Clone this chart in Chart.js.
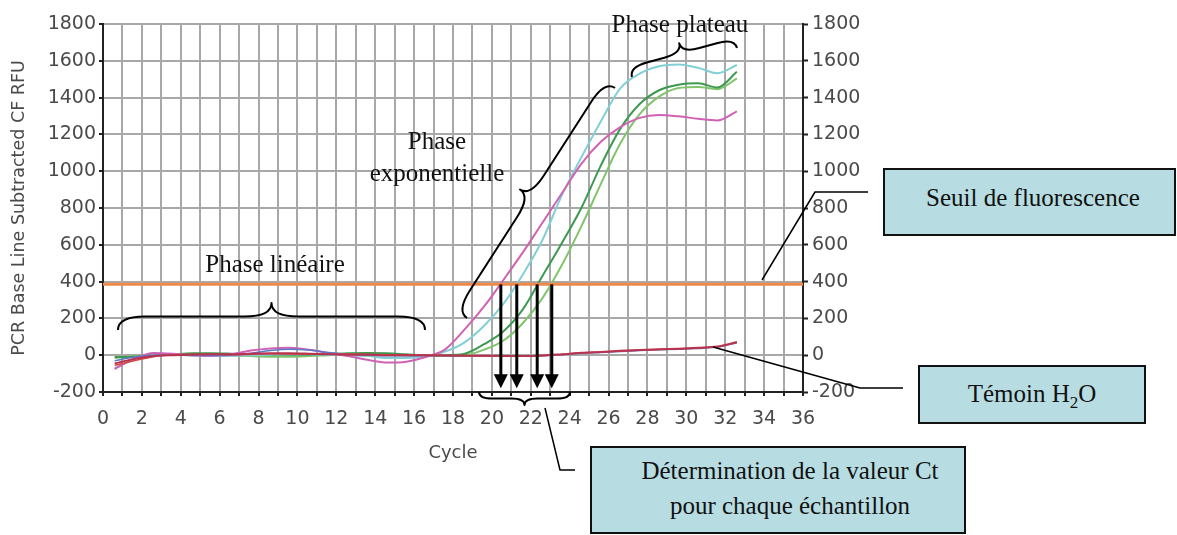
<!DOCTYPE html>
<html>
<head>
<meta charset="utf-8">
<script src="https://cdn.jsdelivr.net/npm/chart.js@4.4.1/dist/chart.umd.min.js"></script>
<style>
body { margin: 0; background: #fff; }
#wrap { position: relative; width: 1177px; height: 535px; overflow: hidden; }
#pcr { position: absolute; left: 0; top: 0; }
.lbl { position: absolute; font-family: "Liberation Serif", "Times New Roman", serif; font-size: 25px; color: #111; white-space: nowrap; transform: translate(-50%, -50%); line-height: 1; }
.box { position: absolute; background: #b7dde2; border: 2px solid #111; box-sizing: border-box; }
.sub { font-size: 17px; position: relative; top: 6px; }
</style>
</head>
<body>
<div id="wrap">
  <canvas id="pcr" width="1177" height="535"></canvas>

  <div class="box" style="left:883px; top:168px; width:293px; height:68px;"></div>
  <div class="box" style="left:918px; top:365px; width:228px; height:59px;"></div>
  <div class="box" style="left:590px; top:446px; width:376px; height:88px;"></div>

  <div class="lbl" style="left:680px; top:23px;">Phase plateau</div>
  <div class="lbl" style="left:437px; top:140px;">Phase</div>
  <div class="lbl" style="left:437px; top:172px;">exponentielle</div>
  <div class="lbl" style="left:275px; top:263px;">Phase linéaire</div>
  <div class="lbl" style="left:1033px; top:197px;">Seuil de fluorescence</div>
  <div class="lbl" style="left:1032px; top:393px;">Témoin H<span class="sub">2</span>O</div>
  <div class="lbl" style="left:790px; top:470px;">Détermination de la valeur Ct</div>
  <div class="lbl" style="left:790px; top:505px;">pour chaque échantillon</div>
</div>

<script>
// Cycle numbers at which each well was read
const cycles = [0.6, 1.6, 2.6, 3.6, 4.6, 5.6, 6.6, 7.6, 8.6, 9.6, 10.6, 11.6, 12.6, 13.6, 14.6, 15.6, 16.6,
                17.6, 18.6, 19.6, 20.6, 21.6, 22.6, 23.6, 24.6, 25.6, 26.6, 27.6, 28.6, 29.6, 30.6, 31.6, 32.6];

// Fluorescence (RFU, baseline subtracted) per well
const magenta    = [-75, -20, 12, 8, 0, -3, 5, 25, 37, 40, 30, 12, -5, -25, -40, -35, -10,
                    32, 140, 265, 410, 560, 720, 880, 1040, 1160, 1240, 1290, 1305, 1298, 1285, 1276, 1325];
const cyan       = [-70, -25, 0, 2, -3, -5, -3, 0, 3, 5, 5, 3, 0, -5, -15, -15, -5,
                    20, 70, 160, 280, 440, 626, 870, 1075, 1270, 1450, 1530, 1570, 1580, 1562, 1533, 1577];
const darkGreen  = [-10, -8, 0, 5, 10, 10, 8, 5, 3, 2, 3, 5, 10, 12, 10, 5, 0,
                    0, 8, 60, 130, 250, 430, 610, 800, 1030, 1230, 1365, 1440, 1470, 1478, 1455, 1540];
const lightGreen = [-15, -5, 0, 3, 5, 2, 0, -5, -8, -8, -5, 0, 5, 5, 2, 0, -3,
                    -3, 0, 30, 80, 175, 310, 490, 700, 930, 1150, 1310, 1405, 1452, 1458, 1446, 1505];
const blueWell   = [-30, -10, 0, 2, 0, -2, 0, 10, 25, 32, 28, 15, 5, 0, -3, -3, -2,
                    -3, -3, -4, -4, -5, -3, 3, 10, 15, 20, 25, 29, 32, 37, 44, 68];
const redWell    = [-55, -30, -8, 2, 5, 5, 3, 5, 8, 6, 5, 5, 6, 5, 3, 2, 0,
                    -1, -2, -3, -3, -3, -2, 4, 12, 17, 22, 27, 31, 34, 39, 46, 70];
const h2o        = [-45, -20, -5, 0, 3, 5, 5, 8, 10, 10, 8, 5, 3, 2, 0, 0, 0,
                    -2, -3, -3, -4, -5, -2, 5, 13, 18, 24, 28, 32, 35, 40, 47, 72];

// Threshold line and Ct values read at the threshold
const thresholdCycles = [0, 36];
const threshold = [385, 385];
const ctValues = [20.46, 21.28, 22.33, 23.08];
const arrowTip = -180;

const tickFont = { family: 'DejaVu Sans', size: 19 };
const tickColor = '#4a4a4a';

function toPoints(ys, xs) {
    return ys.map((v, i) => ({ x: (xs || cycles)[i], y: v }));
}

function well(label, ys, color, width) {
    return {
        label: label,
        data: toPoints(ys),
        borderColor: color,
        borderWidth: width || 2,
        pointRadius: 0,
        cubicInterpolationMode: 'monotone',
        order: 2
    };
}

// curly brace between two points, bulging to the left of the direction
function brace(ctx, x1, y1, x2, y2, w) {
    const dx = x2 - x1, dy = y2 - y1;
    const len = Math.hypot(dx, dy), q = Math.min(w, len / 6);
    ctx.save();
    ctx.translate(x1, y1);
    ctx.rotate(Math.atan2(dy, dx));
    ctx.beginPath();
    ctx.moveTo(0, 0);
    ctx.quadraticCurveTo(0, -w / 2, q, -w / 2);
    ctx.lineTo(len / 2 - q, -w / 2);
    ctx.quadraticCurveTo(len / 2, -w / 2, len / 2, -w);
    ctx.quadraticCurveTo(len / 2, -w / 2, len / 2 + q, -w / 2);
    ctx.lineTo(len - q, -w / 2);
    ctx.quadraticCurveTo(len, -w / 2, len, 0);
    ctx.stroke();
    ctx.restore();
}

function polyline(ctx, pts) {
    ctx.beginPath();
    ctx.moveTo(pts[0][0], pts[0][1]);
    pts.slice(1).forEach(p => ctx.lineTo(p[0], p[1]));
    ctx.stroke();
}

const annotations = {
    id: 'annotations',
    afterDraw(chart) {
        const { ctx, scales: { x, y } } = chart;
        ctx.save();
        ctx.strokeStyle = '#000';
        ctx.fillStyle = '#000';
        ctx.lineJoin = 'round';

        // Ct arrows from threshold down to the axis
        const top = y.getPixelForValue(threshold[0]);
        const tip = y.getPixelForValue(arrowTip);
        ctValues.forEach(c => {
            const px = x.getPixelForValue(c);
            ctx.lineWidth = 3;
            ctx.beginPath();
            ctx.moveTo(px, top);
            ctx.lineTo(px, tip - 10);
            ctx.stroke();
            ctx.beginPath();
            ctx.moveTo(px - 7, tip - 14);
            ctx.lineTo(px + 7, tip - 14);
            ctx.lineTo(px, tip);
            ctx.closePath();
            ctx.fill();
        });

        ctx.lineWidth = 2;
        brace(ctx, 118, 330, 425, 330, 27);
        brace(ctx, 467, 318, 615, 88, 25);
        brace(ctx, 632, 77, 737, 48, 20);
        brace(ctx, 570, 392, 479, 392, 13);

        ctx.lineWidth = 1.5;
        polyline(ctx, [[868, 192], [815, 192], [762, 280]]);
        polyline(ctx, [[903, 388], [860, 388], [713, 347]]);
        polyline(ctx, [[545, 408], [560, 470], [575, 470]]);
        ctx.restore();
    }
};

const yTicks = {
    stepSize: 100,
    font: tickFont,
    color: tickColor,
    callback: v => (v % 200 === 0 ? v : '')
};

new Chart(document.getElementById('pcr'), {
    type: 'line',
    data: {
        datasets: [
            {
                label: 'Seuil',
                data: toPoints(threshold, thresholdCycles),
                borderColor: '#f0884a',
                borderWidth: 3,
                pointRadius: 0,
                order: 1
            },
            well('H2O', h2o, '#b8334f', 2),
            well('Rouge', redWell, '#d84545', 1.5),
            well('Bleu', blueWell, '#5a78c8', 1.5),
            well('Magenta', magenta, '#d062b4', 2),
            well('Cyan', cyan, '#82cfd6', 2),
            well('Vert foncé', darkGreen, '#3c9a50', 2),
            well('Vert clair', lightGreen, '#80c46c', 2)
        ]
    },
    options: {
        responsive: false,
        animation: false,
        devicePixelRatio: 1,
        layout: { padding: { top: 24, left: 0, right: 0, bottom: 0 } },
        plugins: { legend: { display: false }, tooltip: { enabled: false } },
        scales: {
            x: {
                type: 'linear',
                min: 0,
                max: 36,
                afterFit: s => { s.height = 143; },
                ticks: {
                    stepSize: 1,
                    autoSkip: false,
                    maxRotation: 0,
                    padding: 12,
                    font: tickFont,
                    color: tickColor,
                    callback: v => (v % 2 === 0 ? v : '')
                },
                grid: { color: '#a8a8a8', lineWidth: 2, tickLength: 4, tickColor: '#222', tickWidth: 2 },
                border: { color: '#222', width: 2 },
                title: {
                    display: true,
                    text: 'Cycle',
                    font: { family: 'DejaVu Sans', size: 18 },
                    color: tickColor,
                    padding: { top: 0, bottom: 71 }
                }
            },
            y: {
                position: 'left',
                min: -200,
                max: 1800,
                afterFit: s => { s.width = 103; },
                ticks: Object.assign({ padding: 3 }, yTicks),
                grid: { color: '#a8a8a8', lineWidth: 2, tickLength: 4, tickColor: '#222', tickWidth: 2 },
                border: { color: '#222', width: 2 },
                title: {
                    display: true,
                    text: 'PCR Base Line Subtracted CF RFU',
                    font: { family: 'DejaVu Sans', size: 17.5 },
                    color: tickColor,
                    padding: { top: 9, bottom: 0 }
                }
            },
            y2: {
                position: 'right',
                min: -200,
                max: 1800,
                afterFit: s => { s.width = 374; },
                ticks: Object.assign({ padding: 4 }, yTicks),
                grid: { drawOnChartArea: false, tickLength: 5, tickColor: '#222', tickWidth: 2 },
                border: { color: '#222', width: 2 }
            }
        }
    },
    plugins: [annotations]
});
</script>
</body>
</html>
